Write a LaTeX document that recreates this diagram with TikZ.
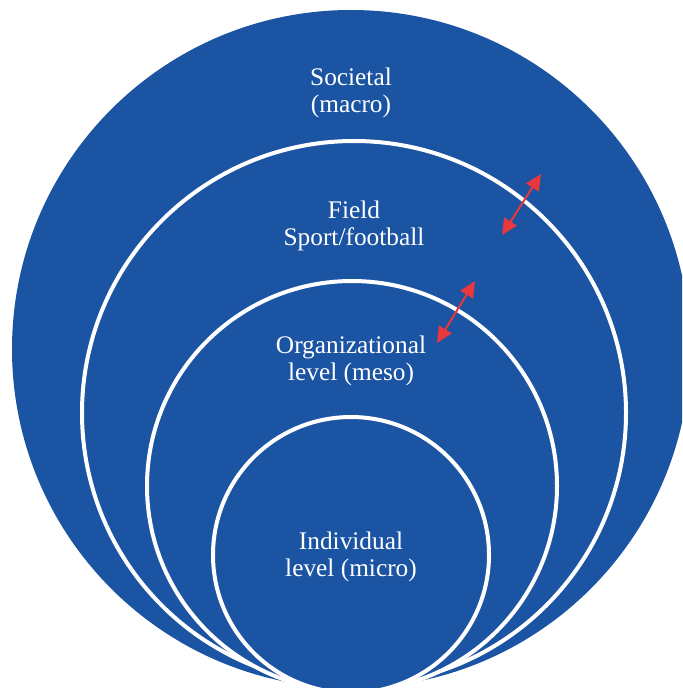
\documentclass[tikz,border=0pt]{standalone}
\usepackage{fontspec}
\setmainfont{Liberation Serif}
\usetikzlibrary{arrows.meta}
\definecolor{ringblue}{RGB}{28,84,164}
\definecolor{arrowred}{RGB}{232,56,61}

\begin{document}
\begin{tikzpicture}[x=0.75pt,y=-0.75pt,>={Triangle[length=12pt,width=11pt]}]
\tikzset{ring/.style={draw=white,line width=3pt,fill=ringblue,shape=circle,inner sep=0pt},
  lvl/.style={text=white,align=center,font=\fontsize{19}{20.5}\selectfont},
  link/.style={<->,draw=arrowred,fill=arrowred,line width=1.5pt}}
\useasboundingbox (0,0) rectangle (682,688);
\clip (0,0) rectangle (682,688);

% nested levels
\node[ring,draw=none,minimum size=508.5pt](soc) at (351,349){};
\node[ring,minimum size=408pt](fld) at (354,413){};
\node[ring,minimum size=307.5pt](org) at (352,486){};
\node[ring,minimum size=207pt](ind) at (351,555){};

\node[lvl](soctext) at (351,93){Societal\\(macro)};
\node[lvl](fldtext) at (354,226){Field\\Sport/football};
\node[lvl](orgtext) at (351,361){Organizational\\level (meso)};
\node[lvl](indtext) at (351,557){Individual\\level (micro)};

% interactions between levels
\coordinate (a1) at (502,235);
\coordinate (b1) at (541,174);
\coordinate (a2) at (437,343);
\coordinate (b2) at (475,281);
\draw[link] (a1) -- (b1);
\draw[link] (a2) -- (b2);
\end{tikzpicture}
\end{document}
